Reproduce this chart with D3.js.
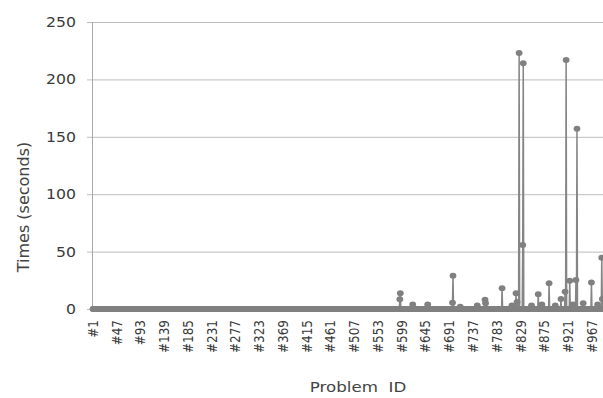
<!DOCTYPE html>
<html>
<head>
<meta charset="utf-8">
<script src="https://cdn.jsdelivr.net/npm/d3@7/dist/d3.min.js"></script>
<style>
  body { margin: 0; background: #fff; }
  svg { display: block; font-family: "DejaVu Sans", Verdana, sans-serif; }
</style>
</head>
<body>
<div id="chart"></div>
<script>
// problem ids #1..#1000, most solve in ~0 s, only the outliers are listed
var problemCount = 1000;
var tickLabels = ['#1','#47','#93','#139','#185','#231','#277','#323','#369','#415','#461',
                  '#507','#553','#599','#645','#691','#737','#783','#829','#875','#921','#967'];
var yTicks = [0, 50, 100, 150, 200, 250];

// outliers (problem number, seconds)
var slowIds   = [595, 596, 620, 649, 697, 698, 712, 745, 760, 761, 793, 812, 820, 822,
                 826, 833, 834, 850, 863, 870, 884, 896, 907, 915, 917, 924, 930, 936,
                 938, 950, 966, 978, 986, 987];
var slowTimes = [8.5, 13.7, 4, 4, 5.5, 29, 2, 3, 8, 5, 18, 3, 13.7, 6,
                 223, 55.7, 214, 3, 12.8, 4, 22.4, 3, 8.7, 15, 217, 24.7, 4, 25.3,
                 157, 5, 23, 4, 44.7, 8.7];

var times = d3.range(1, problemCount + 1).map(function(id) {
    var k = slowIds.indexOf(id);
    return {id: id, value: k < 0 ? 0 : slowTimes[k]};
});

var W = 603, H = 398;
var margin = {top: 22, left: 92, bottom: 89};

var svg = d3.select('#chart').append('svg')
    .attr('width', W)
    .attr('height', H);

var x = d3.scaleLinear().domain([1, problemCount]).range([93, 609]);
var y = d3.scaleLinear().domain([0, 250]).range([H - margin.bottom, margin.top]);

// gridlines
svg.append('g').selectAll('line')
    .data(yTicks)
    .enter().append('line')
    .attr('x1', margin.left - 5).attr('x2', W)
    .attr('y1', function(d) { return y(d) + 0.5; })
    .attr('y2', function(d) { return y(d) + 0.5; })
    .attr('stroke', '#bdbdbd').attr('stroke-width', 1);

// y axis line
svg.append('line')
    .attr('x1', margin.left + 0.5).attr('x2', margin.left + 0.5)
    .attr('y1', y(250)).attr('y2', y(0))
    .attr('stroke', '#a8a8a8');

// y tick labels
svg.append('g').selectAll('g')
    .data(yTicks)
    .enter().append('g')
    .attr('transform', function(d) { return 'translate(76,' + y(d) + ') scale(1.12,1)'; })
    .append('text')
    .attr('text-anchor', 'end')
    .attr('dy', '0.36em')
    .attr('font-size', 14)
    .attr('fill', '#3a3a3a')
    .text(function(d) { return d; });

// x tick labels (rotated)
var tickIds = tickLabels.map(function(t) { return +t.slice(1); });
svg.append('g').selectAll('text')
    .data(tickIds)
    .enter().append('text')
    .attr('transform', function(d) { return 'translate(' + x(d) + ',320) rotate(-90) scale(1,1.12)'; })
    .attr('text-anchor', 'end')
    .attr('dy', '0.36em')
    .attr('font-size', 12)
    .attr('fill', '#3a3a3a')
    .text(function(d, i) { return tickLabels[i]; });

// line + markers
var line = d3.line()
    .x(function(d) { return x(d.id); })
    .y(function(d) { return y(d.value); });

svg.append('path')
    .datum(times)
    .attr('d', line)
    .attr('fill', 'none')
    .attr('stroke', '#858585')
    .attr('stroke-width', 1.5);

svg.append('g').selectAll('ellipse')
    .data(times)
    .enter().append('ellipse')
    .attr('cx', function(d) { return x(d.id); })
    .attr('cy', function(d) { return y(d.value); })
    .attr('rx', 3.4)
    .attr('ry', 3)
    .attr('fill', '#808080');

// axis titles
svg.append('text')
    .attr('transform', 'translate(23,207) rotate(-90)')
    .attr('text-anchor', 'middle')
    .attr('dy', '0.36em')
    .attr('font-size', 16)
    .attr('fill', '#444')
    .text('Times (seconds)');

svg.append('g')
    .attr('transform', 'translate(358,392) scale(1.15,1)')
    .append('text')
    .attr('text-anchor', 'middle')
    .attr('font-size', 14.5)
    .attr('fill', '#444')
    .style('white-space', 'pre')
    .text('Problem  ID');
</script>
</body>
</html>
